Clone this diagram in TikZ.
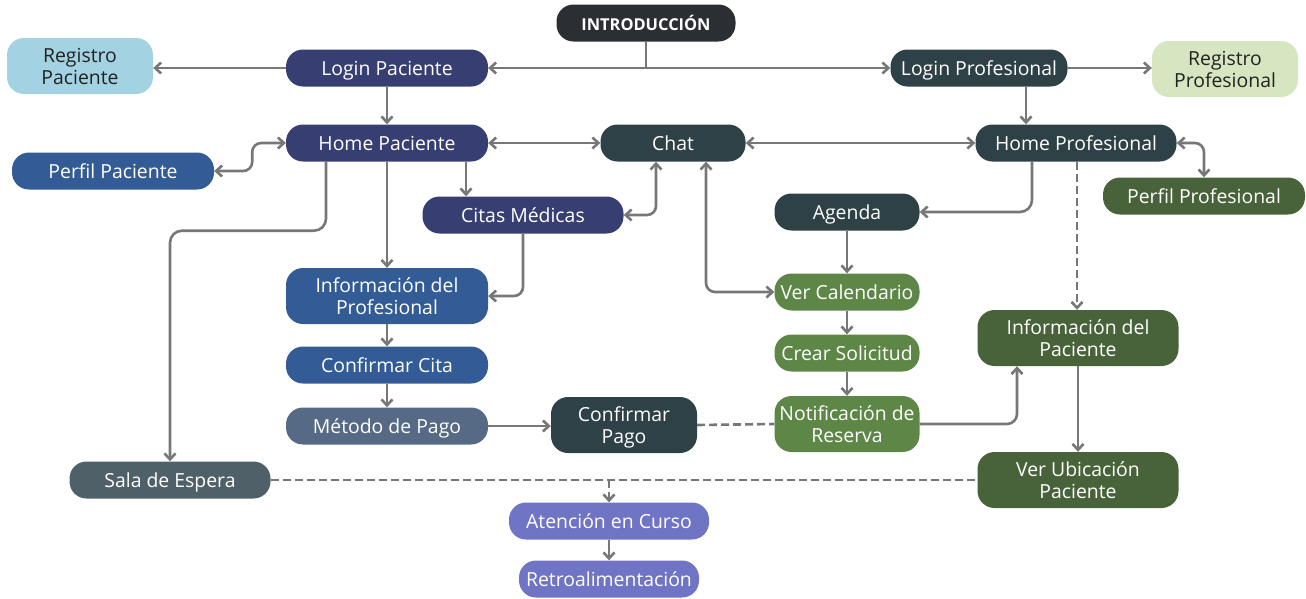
\documentclass[tikz,border=0pt]{standalone}
\usepackage{fontspec}
\setmainfont{Open Sans}
\usetikzlibrary{arrows.meta}
\definecolor{cintro}{HTML}{2B2F33}
\definecolor{cnavy}{HTML}{373F72}
\definecolor{cblue}{HTML}{335C96}
\definecolor{cteal}{HTML}{2E4146}
\definecolor{cslate}{HTML}{566A86}
\definecolor{csala}{HTML}{4F6069}
\definecolor{clblue}{HTML}{A3D2E2}
\definecolor{clgreen}{HTML}{D5E6C1}
\definecolor{cdgreen}{HTML}{48633A}
\definecolor{cmgreen}{HTML}{5E8747}
\definecolor{cpurple}{HTML}{6F74C5}
\definecolor{cline}{HTML}{777777}
\definecolor{ctext}{HTML}{222222}
\begin{document}
\begin{tikzpicture}[x=1pt,y=-1pt,
  nd/.style={rounded corners=17pt, minimum height=37pt, inner sep=0pt, align=center,
    text depth=0pt, font=\fontsize{19.4}{22}\selectfont, text=white},
  tall/.style={minimum height=56pt},
  ar/.style={draw=cline, line width=2.6pt, -{Straight Barb[length=6pt,width=11pt]}},
  arr2/.style={draw=cline, line width=2.6pt, {Straight Barb[length=6pt,width=11pt]}-{Straight Barb[length=6pt,width=11pt]}},
  ln/.style={draw=cline, line width=2.6pt},
  dsh/.style={dash pattern=on 8pt off 4pt}]
\useasboundingbox (0,0) rectangle (1306,598);
% nodes
\node[nd, fill=cintro, minimum width=179pt, font=\fontsize{16.4}{18}\selectfont\bfseries] (intro) at (646,23) {INTRODUCCIÓN};
\node[nd, tall, fill=clblue, text=ctext, minimum width=146pt] (regp) at (80,66) {Registro\\Paciente};
\node[nd, fill=cnavy, minimum width=202pt] (lp) at (387,68) {Login Paciente};
\node[nd, fill=cteal, minimum width=177pt] (lprof) at (979,68) {Login Profesional};
\node[nd, tall, fill=clgreen, text=ctext, minimum width=146pt] (regprof) at (1225,69) {Registro\\Profesional};
\node[nd, fill=cnavy, minimum width=202pt] (hp) at (387,143) {Home Paciente};
\node[nd, fill=cteal, minimum width=145pt] (chat) at (673,143) {Chat};
\node[nd, fill=cteal, minimum width=201pt] (hprof) at (1076,143) {Home Profesional};
\node[nd, fill=cblue, minimum width=202pt] (pp) at (113,171) {Perfil Paciente};
\node[nd, fill=cdgreen, minimum width=202pt] (pprof) at (1204,196) {Perfil Profesional};
\node[nd, fill=cnavy, minimum width=201pt] (citas) at (523,215) {Citas Médicas};
\node[nd, fill=cteal, minimum width=145pt] (agenda) at (847,212) {Agenda};
\node[nd, tall, fill=cblue, minimum width=202pt] (infoprof) at (387,296) {Información del\\Profesional};
\node[nd, fill=cmgreen, minimum width=145pt] (vercal) at (847,292) {Ver Calendario};
\node[nd, tall, fill=cdgreen, minimum width=201pt] (infopac) at (1078,338) {Información del\\Paciente};
\node[nd, fill=cblue, minimum width=202pt] (confcita) at (387,365) {Confirmar Cita};
\node[nd, fill=cmgreen, minimum width=145pt] (crear) at (847,353) {Crear Solicitud};
\node[nd, fill=cslate, minimum width=202pt] (metodo) at (387,426) {Método de Pago};
\node[nd, tall, fill=cteal, minimum width=146pt] (confpago) at (624,425) {Confirmar\\Pago};
\node[nd, tall, fill=cmgreen, minimum width=145pt] (notif) at (847,424) {Notificación de\\Reserva};
\node[nd, fill=csala, minimum width=201pt] (sala) at (170,480) {Sala de Espera};
\node[nd, tall, fill=cdgreen, minimum width=201pt] (verubi) at (1078,480) {Ver Ubicación\\Paciente};
\node[nd, fill=cpurple, minimum width=200pt] (atencion) at (609,521) {Atención en Curso};
\node[nd, fill=cpurple, minimum width=180pt] (retro) at (609,579) {Retroalimentación};
% connectors
\draw[ar] (intro.south) |- (lp.east);
\draw[ar] (intro.south) |- (lprof.west);
\draw[ar] (lp.west) -- (lp.west -| regp.east);
\draw[ar] (lprof.east) -- (lprof.east -| regprof.west);
\draw[ar] (lp.south) -- (hp.north);
\draw[ar] ([xshift=47pt]lprof.south) -- ([xshift=47pt]lprof.south |- hprof.north);
\draw[arr2] (hp.east) -- (chat.west);
\draw[arr2] (chat.east) -- (hprof.west);
\draw[arr2, rounded corners=9pt] (pp.east) -- ++(38,0) |- (hp.west);
\draw[arr2, rounded corners=9pt] (hprof.east) -| (pprof.north);
\draw[ar] ([xshift=79pt]hp.south) -- ([xshift=79pt]hp.south |- citas.north);
\draw[ar] (hp.south) -- (infoprof.north);
\draw[ar, rounded corners=12pt] ([xshift=-61pt]hp.south) -- ++(0,69) -| (sala.north);
\draw[arr2, rounded corners=9pt] (citas.east) -| ([xshift=-17pt]chat.south);
\draw[arr2, rounded corners=9pt] ([xshift=33pt]chat.south) |- (vercal.west);
\draw[ar, rounded corners=9pt] (citas.south) |- (infoprof.east);
\draw[ar] (infoprof.south) -- (confcita.north);
\draw[ar] (confcita.south) -- (metodo.north);
\draw[ar] (metodo.east) -- (metodo.east -| confpago.west);
\draw[ln, dsh] (confpago.east) -- (notif.west);
\draw[ar, rounded corners=12pt] ([xshift=-44pt]hprof.south) |- (agenda.east);
\draw[ar] (agenda.south) -- (vercal.north);
\draw[ar] (vercal.south) -- (crear.north);
\draw[ar] (crear.south) -- (notif.north);
\draw[ar, rounded corners=10pt] (notif.east) -| ([xshift=-61pt]infopac.south);
\draw[ar, dsh] ([xshift=1pt]hprof.south) -- ([xshift=1pt]hprof.south |- infopac.north);
\draw[ar] (infopac.south) -- (verubi.north);
\draw[ln, dsh] (sala.east) -- (verubi.west);
\draw[ar, dsh] (sala.east -| atencion.north) -- (atencion.north);
\draw[ar] (atencion.south) -- (retro.north);
\end{tikzpicture}
\end{document}
